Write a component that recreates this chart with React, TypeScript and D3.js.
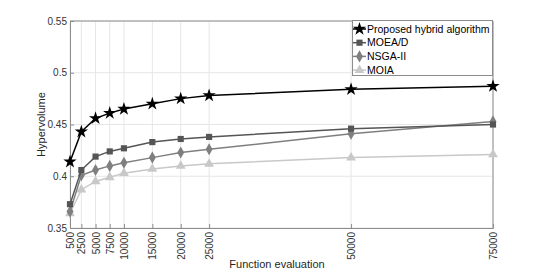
import { useEffect, useRef } from 'react';
import * as d3 from 'd3';

const evaluations = [500, 2500, 5000, 7500, 10000, 15000, 20000, 25000, 50000, 75000];
const proposed = [0.414, 0.443, 0.456, 0.461, 0.465, 0.470, 0.475, 0.478, 0.484, 0.487];
const moead = [0.373, 0.406, 0.419, 0.424, 0.427, 0.433, 0.436, 0.438, 0.446, 0.450];
const nsga2 = [0.366, 0.401, 0.406, 0.410, 0.413, 0.418, 0.423, 0.426, 0.441, 0.453];
const moia = [0.364, 0.387, 0.395, 0.399, 0.403, 0.407, 0.410, 0.412, 0.418, 0.421];
const yTicks = [0.35, 0.4, 0.45, 0.5, 0.55];

const seriesList = [
  { name: 'Proposed hybrid algorithm', values: proposed, color: '#000000', shape: d3.symbolStar, size: 55 },
  { name: 'MOEA/D', values: moead, color: '#555555', shape: d3.symbolSquare, size: 38 },
  { name: 'NSGA-II', values: nsga2, color: '#7f7f7f', shape: d3.symbolDiamond, size: 42 },
  { name: 'MOIA', values: moia, color: '#c8c8c8', shape: d3.symbolTriangle, size: 42 },
];

const width = 545;
const height = 273;
const margin = { left: 70, right: 52, top: 21, bottom: 45 };

function drawChart(el: SVGSVGElement) {
  const svg = d3.select(el);
  svg.selectAll('*').remove();

  const x = d3.scaleLinear().domain([500, 75000]).range([margin.left, width - margin.right]);
  const y = d3.scaleLinear().domain([0.35, 0.55]).range([height - margin.bottom, margin.top]);
  const font = 'Liberation Sans, Arial, sans-serif';

  // grid
  svg.append('g')
    .selectAll('line')
    .data(evaluations)
    .join('line')
    .attr('x1', d => x(d)).attr('x2', d => x(d))
    .attr('y1', y(0.35)).attr('y2', y(0.55))
    .attr('stroke', '#e6e6e6').attr('stroke-width', 1);
  svg.append('g')
    .selectAll('line')
    .data(yTicks)
    .join('line')
    .attr('x1', x(500)).attr('x2', x(75000))
    .attr('y1', d => y(d)).attr('y2', d => y(d))
    .attr('stroke', '#e6e6e6').attr('stroke-width', 1);

  // axes
  const xAxis = svg.append('g')
    .attr('transform', `translate(0,${y(0.35)})`)
    .call(d3.axisBottom(x).tickValues(evaluations).tickSize(-4).tickFormat(d3.format('d')));
  xAxis.selectAll('text')
    .attr('transform', 'rotate(-90)')
    .attr('text-anchor', 'end')
    .attr('x', -4)
    .attr('y', 0)
    .attr('dy', '0.35em');
  const yAxis = svg.append('g')
    .attr('transform', `translate(${x(500)},0)`)
    .call(d3.axisLeft(y).tickValues(yTicks).tickSize(-4).tickFormat(d => String(+d)));
  yAxis.selectAll('text').attr('x', -3);

  [xAxis, yAxis].forEach(g => {
    g.select('.domain').attr('stroke', '#8c8c8c');
    g.selectAll('.tick line').attr('stroke', '#8c8c8c');
    g.selectAll('text').attr('fill', '#333333').attr('font-size', 10).attr('font-family', font);
  });

  // top and right borders
  svg.append('line')
    .attr('x1', x(500)).attr('x2', x(75000)).attr('y1', y(0.55)).attr('y2', y(0.55))
    .attr('stroke', '#8c8c8c');
  svg.append('line')
    .attr('x1', x(75000)).attr('x2', x(75000)).attr('y1', y(0.55)).attr('y2', y(0.35))
    .attr('stroke', '#8c8c8c');

  // series
  const line = d3.line<number>()
    .x((d, i) => x(evaluations[i]))
    .y(d => y(d));

  [...seriesList].reverse().forEach(s => {
    svg.append('path')
      .datum(s.values)
      .attr('d', line)
      .attr('fill', 'none')
      .attr('stroke', s.color)
      .attr('stroke-width', 1.5);
    svg.append('g')
      .selectAll('path')
      .data(s.values)
      .join('path')
      .attr('transform', (d, i) => `translate(${x(evaluations[i])},${y(d)})`)
      .attr('d', d3.symbol().type(s.shape).size(s.size)())
      .attr('fill', s.color);
  });

  // legend
  const legend = svg.append('g');
  legend.append('rect')
    .attr('x', 352.5).attr('y', 20.5)
    .attr('width', 140).attr('height', 55)
    .attr('fill', '#ffffff').attr('stroke', '#8c8c8c');
  seriesList.forEach((s, i) => {
    const ly = 29 + i * 13.7;
    legend.append('line')
      .attr('x1', 353).attr('x2', 366).attr('y1', ly).attr('y2', ly)
      .attr('stroke', s.color).attr('stroke-width', 1.5);
    legend.append('path')
      .attr('transform', `translate(359.5,${ly})`)
      .attr('d', d3.symbol().type(s.shape).size(s.size)())
      .attr('fill', s.color);
    legend.append('text')
      .attr('x', 367).attr('y', ly).attr('dy', '0.35em')
      .attr('font-size', 10.5).attr('font-family', font).attr('fill', '#000')
      .text(s.name);
  });

  // axis labels
  svg.append('text')
    .attr('transform', `translate(45,${(y(0.35) + y(0.55)) / 2}) rotate(-90)`)
    .attr('text-anchor', 'middle')
    .attr('font-size', 11).attr('font-family', font).attr('fill', '#262626')
    .text('Hypervolume');
  svg.append('text')
    .attr('x', 277).attr('y', 268)
    .attr('text-anchor', 'middle')
    .attr('font-size', 11).attr('font-family', font).attr('fill', '#262626')
    .text('Function evaluation');
}

export default function App() {
  const ref = useRef<SVGSVGElement>(null);
  useEffect(() => {
    if (ref.current) drawChart(ref.current);
  }, []);
  return (
    <svg ref={ref} width={width} height={height}
      style={{ position: 'absolute', left: 0, top: 0, background: '#fff' }} />
  );
}
